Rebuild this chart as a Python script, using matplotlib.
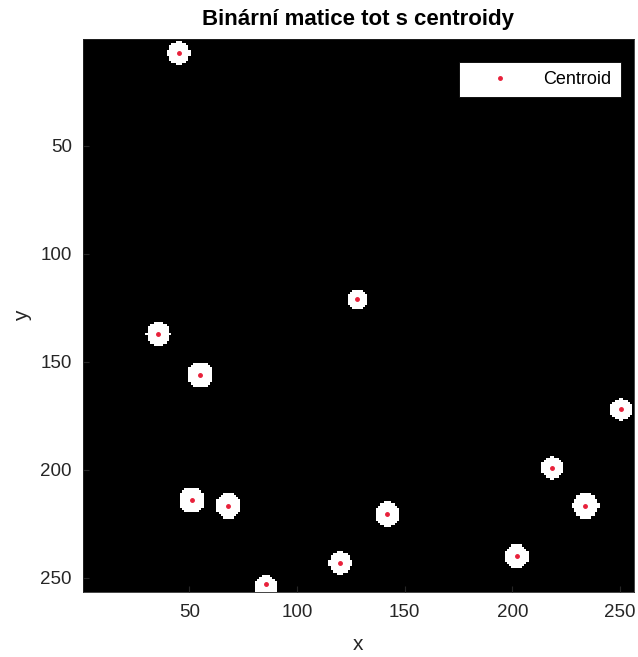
import matplotlib
matplotlib.use("Agg")
import matplotlib.pyplot as plt
import numpy as np

plt.rcParams["font.family"] = ["Liberation Sans", "DejaVu Sans"]

IMG_SIZE = 256

# blob centres (x, y in pixel coords, 1-based like MATLAB) and radii
blob_x = [45, 128, 35.5, 55, 250.5, 218.5, 51, 68, 234, 142, 202, 120, 85.5]
blob_y = [7, 121, 137, 156, 172, 199, 214, 216.5, 216.5, 220.5, 240, 243, 254]
blob_r = [5.2, 4.7, 5.5, 5.9, 5.1, 5.1, 5.9, 5.9, 6.1, 5.6, 5.6, 5.1, 5.3]

x_ticks = [50, 100, 150, 200, 250]
y_ticks = [50, 100, 150, 200, 250]


def build_mask():
    yy, xx = np.mgrid[1:IMG_SIZE + 1, 1:IMG_SIZE + 1]
    mask = np.zeros((IMG_SIZE, IMG_SIZE), dtype=bool)
    labels = np.zeros((IMG_SIZE, IMG_SIZE), dtype=int)
    for i, (cx, cy, r) in enumerate(zip(blob_x, blob_y, blob_r), start=1):
        disc = (xx - cx) ** 2 + (yy - cy) ** 2 <= r ** 2
        mask |= disc
        labels[disc] = i
    return mask, labels, xx, yy


def main() -> None:
    mask, labels, xx, yy = build_mask()
    cents = []
    for i in range(1, len(blob_x) + 1):
        sel = labels == i
        cents.append((xx[sel].mean(), yy[sel].mean()))
    cents = np.array(cents)

    fig = plt.figure(figsize=(6.38, 6.57), dpi=100)
    ax = fig.add_axes([0.130, 0.099, 0.8636, 0.8417])
    ax.imshow(mask, cmap="gray", interpolation="nearest",
              extent=(0.5, IMG_SIZE + 0.5, IMG_SIZE + 0.5, 0.5), aspect="auto")
    ax.plot(cents[:, 0], cents[:, 1], ".", color="#e8203a", markersize=5,
            label="Centroid")
    ax.set_xlim(0.5, IMG_SIZE + 0.5)
    ax.set_ylim(IMG_SIZE + 0.5, 0.5)
    ax.set_xticks(x_ticks)
    ax.set_yticks(y_ticks)
    ax.tick_params(direction="in", length=4, colors="#262626", labelsize=13.5)
    ax.tick_params(axis="x", pad=9)
    ax.tick_params(axis="y", pad=8)
    for s in ax.spines.values():
        s.set_color("#262626")
        s.set_linewidth(0.6)
    ax.set_xlabel("x", fontsize=15, color="#262626", labelpad=10)
    ax.set_ylabel("y", fontsize=15, color="#262626", labelpad=6)
    ax.set_title("Binární matice tot s centroidy", fontsize=16,
                 fontweight="bold", pad=10)
    leg = ax.legend(loc="upper right", fontsize=13, fancybox=False,
                    framealpha=1, edgecolor="black", borderpad=0.5,
                    handlelength=3.6, handletextpad=0.6,
                    borderaxespad=0, bbox_to_anchor=(0.976, 0.958))
    leg.get_frame().set_linewidth(0.6)

    fig.savefig("out.png", dpi=100)
    plt.close(fig)


if __name__ == "__main__":
    main()
